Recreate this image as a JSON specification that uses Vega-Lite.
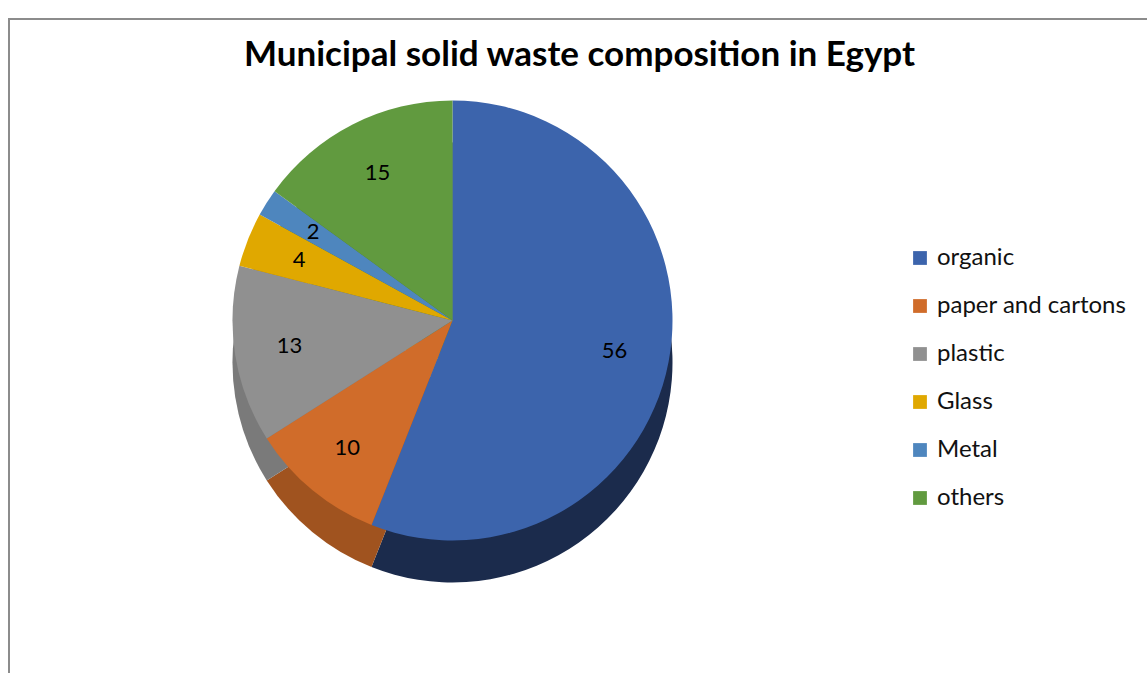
{
  "$schema": "https://vega.github.io/schema/vega-lite/v6.json",
  "width": 1147,
  "height": 673,
  "autosize": {"type": "fit", "contains": "padding"},
  "padding": {"left": 8, "top": 18, "right": -4, "bottom": -4},
  "background": "white",
  "config": {
    "view": {"stroke": null},
    "font": "Lato"
  },
  "title": {
    "text": "Municipal solid waste composition in Egypt",
    "font": "Lato",
    "fontSize": 35,
    "fontWeight": "bold",
    "color": "#000000",
    "anchor": "middle",
    "offset": -55
  },
  "data": {
    "values": [
      {"category": "organic", "value": 56, "ord": 1},
      {"category": "paper and cartons", "value": 10, "ord": 2},
      {"category": "plastic", "value": 13, "ord": 3},
      {"category": "Glass", "value": 4, "ord": 4},
      {"category": "Metal", "value": 2, "ord": 5},
      {"category": "others", "value": 15, "ord": 6}
    ]
  },
  "layer": [
    {
      "mark": {"type": "rect", "fill": "white", "stroke": "#8c8c8c", "strokeWidth": 2},
      "encoding": {}
    },
    {
      "mark": {"type": "arc", "outerRadius": 220, "xOffset": -127, "yOffset": 15},
      "encoding": {
        "theta": {"field": "value", "type": "quantitative", "stack": true},
        "order": {"field": "ord", "type": "quantitative"},
        "color": {
          "field": "category",
          "type": "nominal",
          "legend": null,
          "scale": {
            "domain": ["organic", "paper and cartons", "plastic", "Glass", "Metal", "others"],
            "range": ["#1b2b4c", "#a0531f", "#7a7a7a", "#ae8300", "#3c6896", "#4b7830"]
          }
        }
      }
    },
    {
      "mark": {"type": "arc", "outerRadius": 220, "xOffset": -127, "yOffset": -27},
      "encoding": {
        "theta": {"field": "value", "type": "quantitative", "stack": true},
        "order": {"field": "ord", "type": "quantitative"},
        "color": {
          "field": "category",
          "type": "nominal",
          "sort": null,
          "scale": {
            "domain": ["organic", "paper and cartons", "plastic", "Glass", "Metal", "others"],
            "range": ["#3c64ac", "#d06c2a", "#909090", "#e0a800", "#4e86be", "#619a3f"]
          },
          "legend": {
            "title": null,
            "orient": "none",
            "legendX": 899,
            "legendY": 227,
            "symbolType": "square",
            "symbolSize": 190,
            "symbolStrokeWidth": 0,
            "labelFont": "Lato",
            "labelFontSize": 24,
            "labelColor": "#111111",
            "labelLimit": 400,
            "rowPadding": 24,
            "labelOffset": 5,
            "padding": 0
          }
        }
      }
    },
    {
      "mark": {"type": "text", "radius": 165, "xOffset": -127, "yOffset": -27, "font": "Lato", "fontSize": 22, "color": "#000000"},
      "encoding": {
        "theta": {"field": "value", "type": "quantitative", "stack": true},
        "order": {"field": "ord", "type": "quantitative"},
        "text": {"field": "value", "type": "quantitative"}
      }
    }
  ],
  "resolve": {"scale": {"color": "independent"}}
}
